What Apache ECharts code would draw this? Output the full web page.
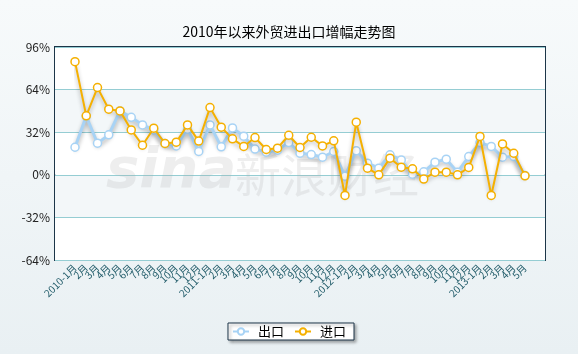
<!DOCTYPE html>
<html>
<head>
<meta charset="utf-8">
<title>2010年以来外贸进出口增幅走势图</title>
<script src="https://cdn.jsdelivr.net/npm/echarts@6/dist/echarts.min.js"></script>
<style>
html,body{margin:0;padding:0;}
#main{width:578px;height:354px;}
</style>
</head>
<body>
<div id="main"></div>
<script>
// 月份
var months = [
    '2010-1月','2月','3月','4月','5月','6月','7月','8月','9月','10月','11月','12月',
    '2011-1月','2月','3月','4月','5月','6月','7月','8月','9月','10月','11月','12月',
    '2012-1月','2月','3月','4月','5月','6月','7月','8月','9月','10月','11月','12月',
    '2013-1月','2月','3月','4月','5月'
];
// 出口增幅(%)
var exportRate = [
    20.7, 44.0, 23.7, 30.0, 48.0, 43.2, 37.5, 33.7, 23.5, 21.7, 34.2, 17.5,
    37.5, 21.0, 35.2, 29.0, 19.3, 17.0, 18.5, 24.2, 16.2, 15.2, 13.2, 17.5,
    -1.0, 18.0, 8.7, 5.0, 15.0, 11.2, 0.5, 2.2, 9.5, 11.7, 2.0, 13.7,
    24.2, 21.3, 13.2, 13.7, -0.5
];
// 进口增幅(%)
var importRate = [
    85.0, 44.3, 65.5, 49.3, 48.0, 33.7, 22.2, 35.0, 23.5, 24.5, 37.5, 25.3,
    50.5, 35.8, 27.0, 21.3, 28.0, 19.0, 20.0, 29.7, 20.5, 28.2, 21.7, 25.5,
    -15.5, 39.5, 5.0, 0.0, 12.5, 5.7, 4.5, -3.2, 2.0, 2.0, 0.0, 5.5,
    28.8, -15.5, 23.2, 16.2, -0.8
];
var yTicks = [-64, 96, 32]; // min, max, interval

var myChart = echarts.init(document.getElementById('main'));
var lineShadow = {shadowColor: 'rgba(0,0,0,0.3)', shadowBlur: 4, shadowOffsetY: 3};
var option = {
    backgroundColor: {
        type: 'linear', x: 0, y: 0, x2: 0, y2: 1,
        colorStops: [{offset: 0, color: '#f7fafb'}, {offset: 1, color: '#e9f0f3'}]
    },
    textStyle: {fontFamily: '"Noto Sans CJK SC", "DejaVu Sans", sans-serif'},
    title: {
        text: '2010年以来外贸进出口增幅走势图',
        left: 'center',
        top: 20,
        textStyle: {fontSize: 14, fontWeight: 'normal', color: '#000'}
    },
    legend: {
        bottom: 14,
        left: 'center',
        data: ['出口', '进口'],
        backgroundColor: '#fff',
        borderColor: '#1c3548',
        borderWidth: 1,
        padding: [2, 8, 2, 4],
        itemGap: 10,
        itemWidth: 16,
        itemHeight: 8,
        shadowColor: 'rgba(0,0,0,0.35)',
        shadowBlur: 3,
        shadowOffsetX: 2,
        shadowOffsetY: 2,
        textStyle: {fontSize: 13, color: '#000', padding: [0, 0, 0, 4]}
    },
    graphic: [
        {
            type: 'text', left: 106, top: 144, z: 1, silent: true,
            style: {text: 'sina', font: 'italic bold 56px "DejaVu Sans"', fill: 'rgba(170,170,170,0.2)'}
        },
        {
            type: 'text', left: 235, top: 152, z: 1, silent: true,
            style: {text: '新浪财经', font: '46px "Noto Sans CJK SC"', fill: 'rgba(170,170,170,0.2)'}
        }
    ],
    grid: [
        {left: 55, right: 33, top: 47, bottom: 94, show: true, backgroundColor: '#fff',
         borderColor: '#1c3548', borderWidth: 2},
        {left: 75, right: 53, top: 47, bottom: 94}
    ],
    xAxis: [
        {gridIndex: 0, type: 'value', show: false, min: 0, max: 1},
        {
            gridIndex: 1,
            type: 'category',
            boundaryGap: false,
            data: months,
            axisLine: {show: false},
            axisTick: {show: false},
            axisLabel: {interval: 0, rotate: 45, fontSize: 10, color: '#1f5a68', margin: 6}
        }
    ],
    yAxis: [
        {
            gridIndex: 0,
            type: 'value',
            min: yTicks[0],
            max: yTicks[1],
            interval: yTicks[2],
            axisLine: {show: false},
            axisTick: {show: false},
            axisLabel: {formatter: '{value}%', fontSize: 12, color: '#222', margin: 5},
            splitLine: {lineStyle: {color: '#95cdd3', width: 1}},
            splitArea: {show: true, areaStyle: {color: ['#ffffff', '#f3f7f9']}}
        },
        {gridIndex: 1, type: 'value', show: false, min: yTicks[0], max: yTicks[1], interval: yTicks[2]}
    ],
    series: [
        {
            name: '出口',
            type: 'line',
            xAxisIndex: 1,
            yAxisIndex: 1,
            data: exportRate,
            symbol: 'circle',
            symbolSize: 8,
            z: 3,
            lineStyle: Object.assign({color: '#a8d3f5', width: 3}, lineShadow),
            itemStyle: {color: '#fff', borderColor: '#a8d3f5', borderWidth: 1.5}
        },
        {
            name: '进口',
            type: 'line',
            xAxisIndex: 1,
            yAxisIndex: 1,
            data: importRate,
            symbol: 'circle',
            symbolSize: 8,
            z: 4,
            lineStyle: Object.assign({color: '#f5b000', width: 2}, lineShadow),
            itemStyle: {color: '#fff', borderColor: '#f5b000', borderWidth: 1.5}
        }
    ]
};
myChart.setOption(option);
</script>
</body>
</html>
